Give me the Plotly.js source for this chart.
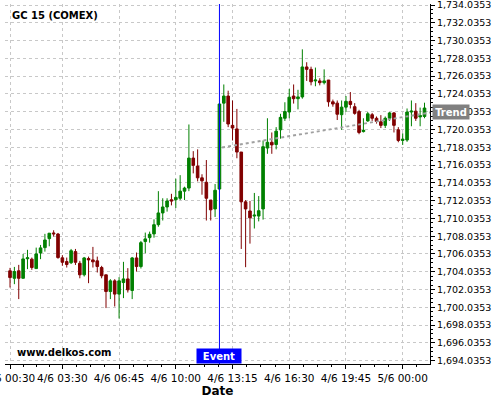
<!DOCTYPE html>
<html>
<head>
<meta charset="utf-8">
<script src="https://cdn.plot.ly/plotly-3.0.1.min.js"></script>
<style>html,body{margin:0;padding:0;background:#fff}#chart{width:500px;height:400px}</style>
</head>
<body>
<div id="chart"></div>
<script>
// 15-minute candles, GC 15 (COMEX)
var openP  = [1704.14,1703.30,1704.14,1703.30,1705.50,1705.45,1704.39,1706.15,1706.75,1707.76,
              1708.40,1708.28,1705.60,1705.18,1705.05,1706.30,1704.99,1703.69,1705.52,1705.37,
              1705.26,1704.51,1703.69,1701.81,1703.01,1701.52,1702.82,1703.23,1701.93,1705.59,
              1704.62,1707.43,1707.87,1708.29,1709.33,1710.65,1711.32,1712.13,1712.13,1712.30,
              1713.10,1713.45,1716.82,1715.92,1714.60,1714.10,1712.10,1711.10,1713.34,1723.00,
              1723.80,1720.50,1720.10,1717.50,1711.90,1710.87,1710.30,1710.30,1711.10,1717.95,
              1718.60,1718.35,1720.00,1721.30,1722.00,1723.80,1723.50,1723.70,1727.07,1726.80,
              1725.50,1725.50,1725.30,1725.60,1723.15,1723.00,1721.70,1722.55,1723.20,1722.60,
              1722.05,1719.80,1721.00,1721.70,1721.30,1720.90,1720.50,1721.30,1721.90,1720.00,
              1718.80,1718.85,1722.00,1722.10,1721.45,1721.50];
var highP  = [1704.47,1704.58,1704.81,1706.04,1706.50,1705.63,1706.75,1707.05,1708.30,1708.40,
              1708.70,1708.40,1705.90,1705.63,1706.60,1706.60,1705.26,1705.70,1705.74,1706.83,
              1705.74,1704.70,1703.70,1703.20,1703.20,1703.43,1705.15,1704.44,1705.70,1706.20,
              1707.50,1708.44,1708.55,1709.93,1713.10,1712.30,1712.30,1712.80,1714.50,1714.90,
              1713.60,1720.60,1717.60,1717.80,1715.00,1716.60,1712.10,1713.90,1723.00,1725.10,
              1724.40,1723.30,1722.35,1717.50,1712.10,1712.00,1712.90,1712.55,1718.80,1721.30,
              1719.70,1720.30,1721.80,1723.10,1724.60,1725.10,1724.50,1729.05,1727.60,1727.10,
              1727.00,1725.80,1726.80,1725.60,1723.40,1723.30,1723.30,1723.80,1724.25,1723.00,
              1722.25,1721.30,1722.00,1721.90,1721.50,1721.65,1721.50,1722.00,1722.00,1720.30,
              1719.60,1722.40,1723.30,1723.00,1722.50,1723.05];
var lowP   = [1702.26,1702.64,1700.96,1703.30,1704.33,1704.25,1704.39,1705.45,1706.30,1706.90,
              1708.00,1705.50,1704.70,1704.51,1704.90,1704.80,1703.30,1703.50,1702.75,1704.51,
              1703.95,1703.30,1699.95,1700.96,1700.13,1698.78,1701.07,1701.70,1700.96,1704.05,
              1704.40,1706.12,1707.31,1707.87,1709.10,1709.80,1710.80,1711.50,1711.20,1712.10,
              1712.10,1713.10,1715.10,1714.20,1712.70,1709.80,1709.80,1710.20,1713.20,1720.90,
              1720.30,1718.80,1716.80,1706.60,1704.55,1707.20,1708.90,1709.70,1709.90,1717.30,
              1717.30,1717.80,1719.00,1721.00,1721.30,1722.95,1722.30,1723.50,1725.50,1725.00,
              1724.90,1725.00,1725.10,1722.60,1722.60,1721.10,1720.00,1722.00,1722.40,1721.70,
              1719.50,1719.70,1720.90,1721.00,1720.70,1720.20,1720.20,1721.00,1719.70,1718.60,
              1718.30,1718.65,1720.40,1721.00,1720.40,1721.30];
var closeP = [1703.38,1704.06,1703.30,1705.48,1705.60,1704.51,1706.04,1706.72,1707.61,1708.37,
              1708.30,1705.63,1705.10,1704.85,1706.40,1705.10,1703.69,1705.59,1705.37,1705.15,
              1704.62,1703.58,1701.81,1703.01,1701.52,1703.01,1703.23,1702.00,1705.59,1704.62,
              1707.31,1707.73,1708.25,1709.33,1710.65,1711.32,1712.00,1711.99,1712.40,1713.10,
              1713.45,1716.82,1716.00,1714.60,1714.26,1712.30,1711.00,1713.20,1722.90,1723.80,
              1720.65,1720.20,1717.50,1711.90,1711.10,1710.10,1710.40,1710.90,1718.10,1718.60,
              1718.30,1719.85,1721.40,1722.05,1723.67,1723.50,1723.70,1727.07,1726.80,1725.40,
              1725.60,1725.30,1725.50,1723.15,1722.90,1721.75,1722.55,1723.20,1722.85,1721.85,
              1719.70,1719.95,1721.80,1721.30,1720.95,1720.50,1721.30,1721.90,1720.50,1718.80,
              1718.95,1722.00,1722.10,1721.30,1721.60,1722.45];

// tick labels (candle index -> label)
var tickIdx    = [0, 12, 25, 38, 51, 64, 77, 90];
var tickLabels = ["4/6 00:30","4/6 03:30","4/6 06:45","4/6 10:00","4/6 13:15","4/6 16:30","4/6 19:45","5/6 00:00"];

// event and trend
var eventIdx = 48;
var trendIdx   = [48.6, 96.3];
var trendPrice = [1718.00, 1721.95];

var xIdx = openP.map(function(_, i){ return i; });

// minor ticks: quarters between major ticks
var minorVals = [];
for (var k = 0; k < tickIdx.length - 1; k++) {
  var a = tickIdx[k], b = tickIdx[k+1];
  for (var q = 1; q < 4; q++) minorVals.push(a + (b - a) * q / 4);
}
minorVals.push(tickIdx[tickIdx.length-1] + 3.25);

var FONT = "DejaVu Sans, Verdana, sans-serif";

var traces = [
  {
    type: 'candlestick',
    x: xIdx, open: openP, high: highP, low: lowP, close: closeP,
    increasing: {line: {color: '#008000', width: 1}, fillcolor: '#008000'},
    decreasing: {line: {color: '#800000', width: 1}, fillcolor: '#800000'},
    whiskerwidth: 0,
    hoverinfo: 'skip',
    showlegend: false
  },
  {
    type: 'scatter', mode: 'lines',
    x: trendIdx, y: trendPrice,
    line: {color: '#a0a0a0', width: 2, dash: 'dot'},
    hoverinfo: 'skip', showlegend: false
  }
];

var layout = {
  width: 500, height: 400,
  margin: {l: 5, r: 70, t: 4, b: 36},
  paper_bgcolor: '#ffffff', plot_bgcolor: '#ffffff',
  showlegend: false,
  hovermode: false,
  boxgap: 0.15,
  font: {family: FONT, color: '#000000'},
  xaxis: {
    type: 'linear',
    range: [-1.15, 96.26],
    rangeslider: {visible: false},
    tickmode: 'array', tickvals: tickIdx, ticktext: tickLabels,
    tickangle: 0,
    ticks: 'outside', ticklen: 4, tickcolor: '#000', tickwidth: 1,
    ticklabeloverflow: 'allow',
    minor: {tickmode: 'array', tickvals: minorVals, ticks: 'outside', ticklen: 2, tickcolor: '#000', showgrid: false},
    showline: true, linecolor: '#000', linewidth: 1,
    showgrid: true, gridcolor: '#c8c8c8', griddash: '3px,3px', gridwidth: 1,
    zeroline: false,
    tickfont: {family: FONT, size: 10.5, color: '#000'},
    title: {text: '<b>Date</b>', font: {family: FONT, size: 12, color: '#000'}, standoff: 0}
  },
  yaxis: {
    side: 'right',
    range: [1693.66, 1734.15],
    tickmode: 'linear', tick0: 1694.0353, dtick: 2,
    tickformat: ',.4f',
    ticks: 'outside', ticklen: 4, tickcolor: '#000', tickwidth: 1,
    ticklabeloverflow: 'allow',
    minor: {dtick: 0.5, tick0: 1694.0353, ticks: 'outside', ticklen: 2, tickcolor: '#000', showgrid: false},
    showline: true, linecolor: '#000', linewidth: 1,
    showgrid: true, gridcolor: '#c8c8c8', griddash: '3px,3px', gridwidth: 1,
    zeroline: false,
    tickfont: {family: FONT, size: 9.5, color: '#000'}
  },
  shapes: [
    {type: 'line', xref: 'x', yref: 'paper', x0: eventIdx, x1: eventIdx, y0: 0, y1: 1,
     line: {color: '#0000ff', width: 1}, layer: 'above'}
  ],
  annotations: [
    {xref: 'paper', yref: 'paper', x: 0.0118, y: 0.9694, xanchor: 'left', yanchor: 'middle',
     text: '<b>GC 15 (COMEX)</b>', showarrow: false, font: {family: FONT, size: 10, color: '#000'}},
    {xref: 'paper', yref: 'paper', x: 0.0235, y: 0.0306, xanchor: 'left', yanchor: 'middle',
     text: '<b>www.delkos.com</b>', showarrow: false, font: {family: FONT, size: 10, color: '#000'}},
    {xref: 'x', yref: 'paper', x: eventIdx, y: 0, xanchor: 'center', yanchor: 'bottom',
     text: '<b>Event</b>', showarrow: false, bgcolor: '#0000ff', width: 44, height: 14, borderpad: 0,
     font: {family: FONT, size: 10, color: '#ffffff'}},
    {xref: 'paper', yref: 'y', x: 1, y: trendPrice[1], xanchor: 'left', yanchor: 'middle', xshift: 2,
     text: '<b>Trend</b>', showarrow: false, bgcolor: '#808080', width: 36, height: 14, borderpad: 0,
     font: {family: FONT, size: 10, color: '#ffffff'}}
  ]
};

Plotly.newPlot('chart', traces, layout, {staticPlot: true, displayModeBar: false});
</script>
</body>
</html>
